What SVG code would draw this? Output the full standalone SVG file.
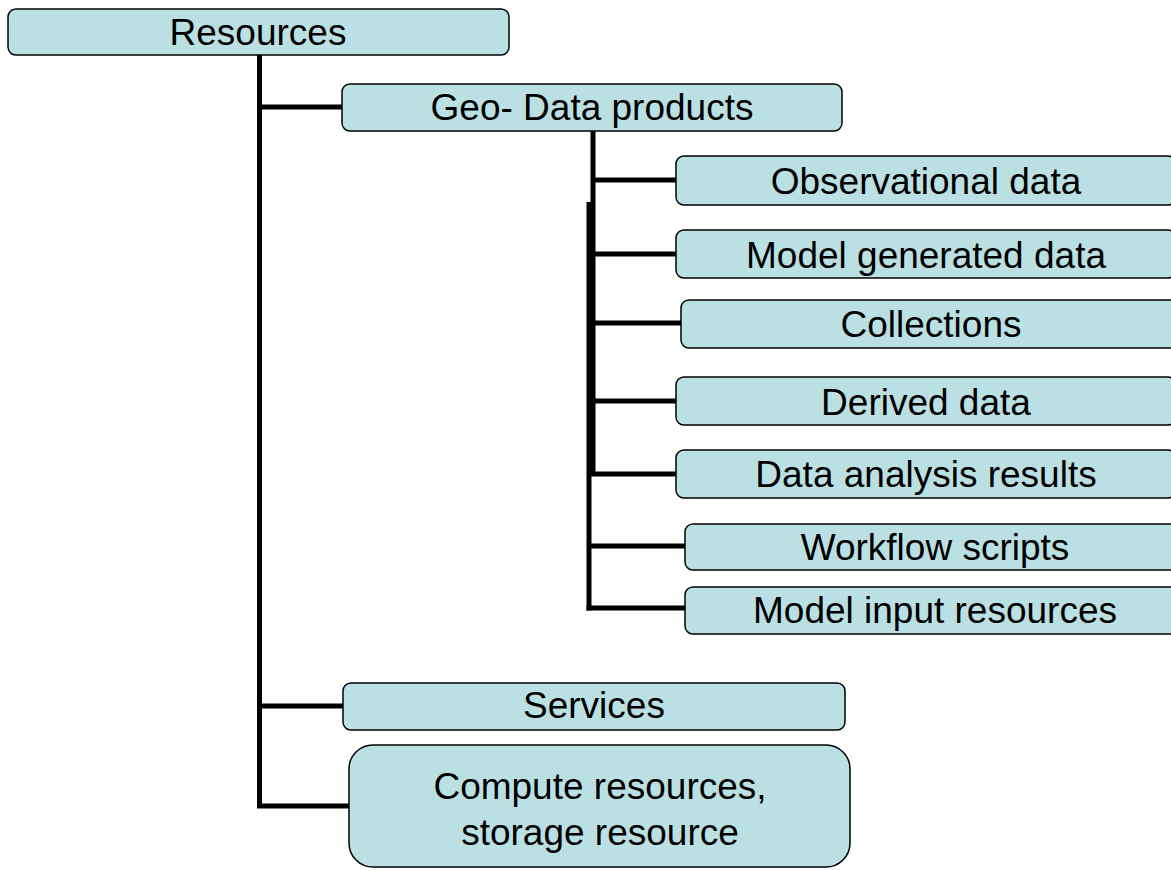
<svg xmlns="http://www.w3.org/2000/svg" width="1171" height="870" viewBox="0 0 1171 870">
  <style>
    .box { fill: #BBE0E3; stroke: #000000; stroke-width: 1.5; }
    .lbl { font-family: "Liberation Sans", Arial, sans-serif; font-size: 37px; fill: #000000; text-anchor: middle; }
    .wire { stroke: #000000; stroke-width: 5; fill: none; stroke-linecap: butt; }
  </style>
  <rect x="0" y="0" width="1171" height="870" fill="#FFFFFF"/>

  <!-- tree connectors -->
  <g id="connectors">
    <!-- Resources trunk -->
    <path class="wire" d="M259.5 55 V808"/>
    <path class="wire" d="M257 107 H342"/>
    <path class="wire" d="M257 706 H343"/>
    <path class="wire" d="M257 806 H349"/>
    <!-- Geo-Data products trunk (two overlapping segments) -->
    <path class="wire" d="M593 131 V476"/>
    <path class="wire" d="M589 202 V610.5"/>
    <path class="wire" d="M593 180 H676"/>
    <path class="wire" d="M593 254 H676"/>
    <path class="wire" d="M593 323 H681"/>
    <path class="wire" d="M593 401 H676"/>
    <path class="wire" d="M589 474 H676"/>
    <path class="wire" d="M589 546 H685"/>
    <path class="wire" d="M586.5 608 H685"/>
  </g>

  <g id="resources">
    <rect class="box" x="8" y="9" width="501" height="46" rx="8"/>
    <text class="lbl" x="258" y="45">Resources</text>
  </g>
  <g id="geo-data-products">
    <rect class="box" x="342" y="84" width="500" height="47" rx="8"/>
    <text class="lbl" x="592" y="120">Geo- Data products</text>
  </g>
  <g id="observational-data">
    <rect class="box" x="676" y="156" width="500" height="49" rx="8"/>
    <text class="lbl" x="926" y="194">Observational data</text>
  </g>
  <g id="model-generated-data">
    <rect class="box" x="676" y="230" width="500" height="48" rx="8"/>
    <text class="lbl" x="926" y="268">Model generated data</text>
  </g>
  <g id="collections">
    <rect class="box" x="681" y="300" width="500" height="48" rx="8"/>
    <text class="lbl" x="931" y="337">Collections</text>
  </g>
  <g id="derived-data">
    <rect class="box" x="676" y="377" width="500" height="48" rx="8"/>
    <text class="lbl" x="926" y="415">Derived data</text>
  </g>
  <g id="data-analysis-results">
    <rect class="box" x="676" y="450" width="500" height="48" rx="8"/>
    <text class="lbl" x="926" y="487">Data analysis results</text>
  </g>
  <g id="workflow-scripts">
    <rect class="box" x="685" y="524" width="500" height="46" rx="8"/>
    <text class="lbl" x="935" y="560">Workflow scripts</text>
  </g>
  <g id="model-input-resources">
    <rect class="box" x="685" y="587" width="500" height="47" rx="8"/>
    <text class="lbl" x="935" y="623">Model input resources</text>
  </g>
  <g id="services">
    <rect class="box" x="343" y="683" width="502" height="47" rx="8"/>
    <text class="lbl" x="594" y="718">Services</text>
  </g>
  <g id="compute-storage">
    <rect class="box" x="349" y="745" width="501" height="122" rx="24"/>
    <text class="lbl" x="600" y="799">Compute resources,</text>
    <text class="lbl" x="600" y="845">storage resource</text>
  </g>
</svg>
